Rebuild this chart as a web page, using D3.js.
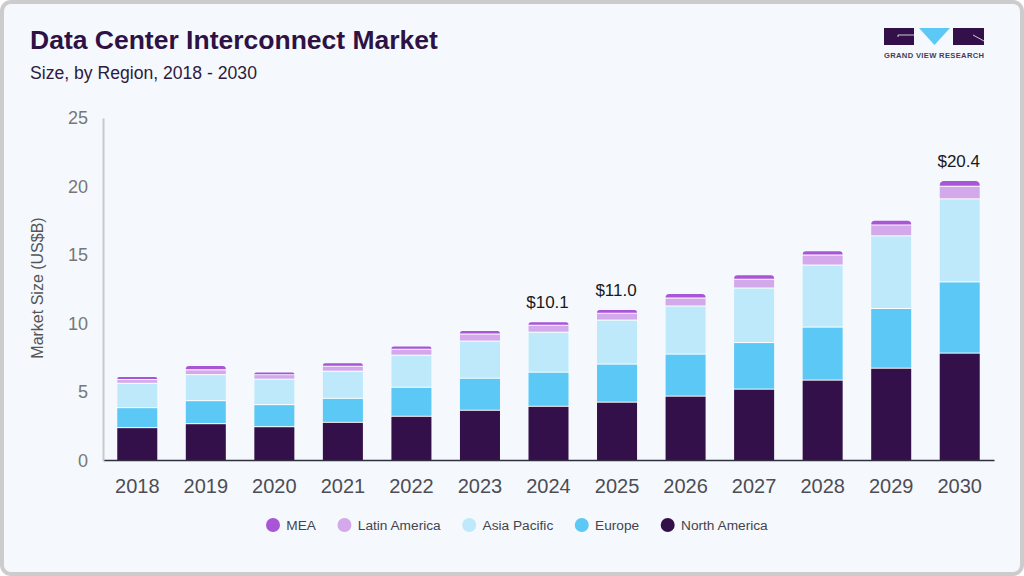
<!DOCTYPE html>
<html><head><meta charset="utf-8">
<script src="https://cdn.jsdelivr.net/npm/d3@7"></script>
<style>html,body{margin:0;padding:0;background:#fff}svg{display:block}text{font-family:"Liberation Sans",Arial,sans-serif}</style>
</head><body><svg id="c" width="1024" height="576"></svg>
<script>
const years=[2018,2019,2020,2021,2022,2023,2024,2025,2026,2027,2028,2029,2030];
const northAmerica=[2.36,2.65,2.43,2.75,3.19,3.63,3.92,4.22,4.66,5.17,5.83,6.70,7.80];
const europe=[1.46,1.68,1.61,1.75,2.12,2.34,2.49,2.78,3.07,3.40,3.87,4.36,5.20];
const asiaPacific=[1.78,1.90,1.86,1.98,2.34,2.71,2.92,3.21,3.51,3.98,4.53,5.30,6.06];
const latinAmerica=[0.27,0.35,0.33,0.37,0.44,0.51,0.51,0.51,0.58,0.65,0.73,0.80,0.92];
const mea=[0.22,0.31,0.20,0.24,0.24,0.26,0.26,0.27,0.34,0.32,0.32,0.34,0.42];
const seriesNames=["North America","Europe","Asia Pacific","Latin America","MEA"];
const seriesColors=["#34104a","#5bc8f5","#bde9fb","#d4a9ec","#a855d8"];
const seriesValues=[northAmerica,europe,asiaPacific,latinAmerica,mea];
const yTicks=[0,5,10,15,20,25];
const labelled={2024:"$10.1",2025:"$11.0",2030:"$20.4"};

const svg=d3.select("#c");
svg.append("rect").attr("x",2).attr("y",2).attr("width",1020).attr("height",572).attr("rx",9)
  .attr("fill","#f5f9fd").attr("stroke","#cccccc").attr("stroke-width",4);
svg.append("path").attr("d","M0 6V0H6Z M1018 0H1024V6Z M0 570V576H6Z M1024 570V576H1018Z").attr("fill","#fff");

svg.append("text").attr("x",30).attr("y",48.5).attr("font-size",26.5).attr("font-weight",700).attr("fill","#2e1245").text("Data Center Interconnect Market");
svg.append("text").attr("x",30).attr("y",79).attr("font-size",17.6).attr("fill","#2e1a40").text("Size, by Region, 2018 - 2030");

const x=d3.scaleBand().domain(years).range([103,994]).paddingInner(0.416).paddingOuter(0.208);
const y=d3.scaleLinear().domain([0,25]).range([460.5,118]);

const stack=years.map((yr,i)=>{let t=0;return seriesValues.map((s,k)=>{const y0=t;t+=s[i];return {yr,k,y0,y1:t};});});
const g=svg.append("g");
stack.forEach(c=>{
  g.append("rect").attr("x",x(c[0].yr)).attr("y",y(c[4].y1)+3).attr("width",x.bandwidth())
    .attr("height",y(0)-y(c[4].y1)-3).attr("fill","#ffffff");
});
stack.flat().forEach(d=>{
  const bx=x(d.yr),w=x.bandwidth(),top=y(d.y1),bot=y(d.y0)-(d.k===0?0:1);
  if(d.k===4){
    const r=Math.min(4.5,bot-top),p=d3.path();
    p.moveTo(bx,bot);p.lineTo(bx,top+r);p.quadraticCurveTo(bx,top,bx+r,top);
    p.lineTo(bx+w-r,top);p.quadraticCurveTo(bx+w,top,bx+w,top+r);p.lineTo(bx+w,bot);p.closePath();
    g.append("path").attr("d",p.toString()).attr("fill",seriesColors[4]);
  } else {
    g.append("rect").attr("x",bx).attr("y",top).attr("width",w).attr("height",bot-top).attr("fill",seriesColors[d.k]);
  }
});

const ax=svg.append("g").attr("transform","translate(0,460)").call(d3.axisBottom(x).tickSize(0).tickPadding(19));
ax.select(".domain").attr("stroke","#2f2f3f").attr("stroke-width",1.5);
ax.selectAll("text").attr("font-size",20).attr("fill","#4d4d55").style("font-family","'Liberation Sans'");

const ay=svg.append("g").attr("transform","translate(103,0)").call(d3.axisLeft(y).tickValues(yTicks).tickSize(0).tickPadding(15));
ay.select(".domain").attr("stroke","#c8cacc").attr("stroke-width",2);
ay.selectAll("text").attr("font-size",18).attr("fill","#777").style("font-family","'Liberation Sans'");
svg.append("text").attr("transform","translate(43,288) rotate(-90)").attr("text-anchor","middle").attr("font-size",16).attr("fill","#555").text("Market Size (US$B)");

stack.forEach((c,i)=>{const yr=years[i];if(labelled[yr])
  svg.append("text").attr("x",x(yr)+x.bandwidth()/2-1).attr("y",y(c[4].y1)-14).attr("text-anchor","middle").attr("font-size",17).attr("fill","#1a1a1a").text(labelled[yr]);});

// legend
let lx=266;
[4,3,2,1,0].forEach(k=>{
  const cx=lx+7;
  svg.append("circle").attr("cx",cx).attr("cy",525).attr("r",7).attr("fill",seriesColors[k]);
  const t=svg.append("text").attr("x",cx+13.3).attr("y",530).attr("font-size",13.7).attr("fill","#44444c").text(seriesNames[k]);
  lx=cx+13.3+t.node().getComputedTextLength()+21.5;
});

// logo
const logo=svg.append("g");
logo.append("rect").attr("x",884).attr("y",28).attr("width",30).attr("height",17).attr("fill","#34104a");
logo.append("rect").attr("x",953).attr("y",28).attr("width",31).attr("height",17).attr("fill","#34104a");
logo.append("path").attr("d","M919 28H950L934.5 45Z").attr("fill","#5bc8f5");
logo.append("path").attr("d","M898 37V35H914").attr("fill","none").attr("stroke","#f5f9fd").attr("stroke-width",.8);
logo.append("path").attr("d","M973 35L984 41").attr("fill","none").attr("stroke","#f5f9fd").attr("stroke-width",.8);
logo.append("text").attr("x",884).attr("y",58).attr("font-size",7.6).attr("font-weight",700).attr("fill","#4a3a5a").attr("textLength",100).attr("lengthAdjust","spacing").text("GRAND VIEW RESEARCH");
</script></body></html>
